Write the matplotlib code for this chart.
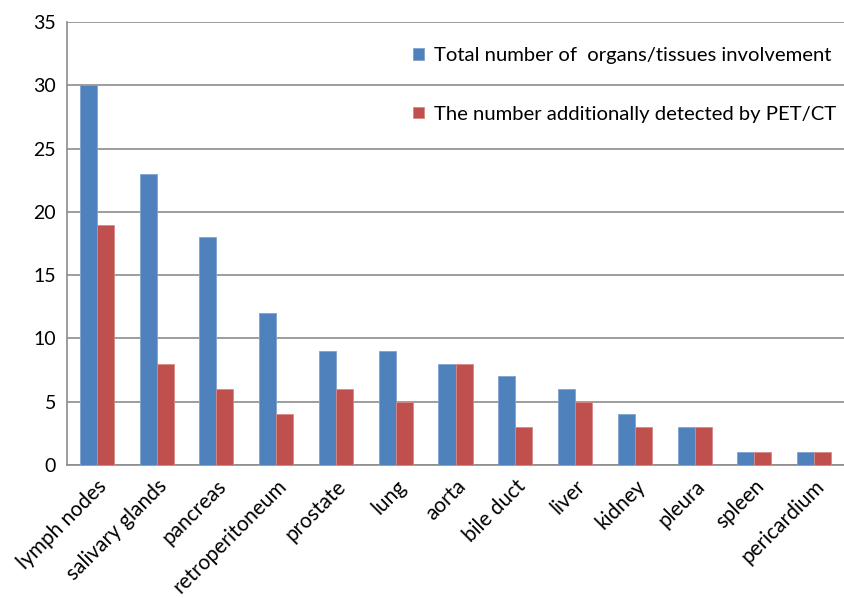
import matplotlib.pyplot as plt
import numpy as np

categories = ['lymph nodes', 'salivary glands', 'pancreas', 'retroperitoneum',
              'prostate', 'lung', 'aorta', 'bile duct', 'liver', 'kidney',
              'pleura', 'spleen', 'pericardium']
total = [30, 23, 18, 12, 9, 9, 8, 7, 6, 4, 3, 1, 1]
pet_ct = [19, 8, 6, 4, 6, 5, 8, 3, 5, 3, 3, 1, 1]
series_names = ['Total number of  organs/tissues involvement',
                'The number additionally detected by PET/CT']


def main():
    plt.rcParams['font.family'] = ['Lato', 'DejaVu Sans']
    fig = plt.figure(figsize=(8.44, 5.98), dpi=100)
    ax = fig.add_axes([67 / 844, 1 - 465 / 598, 777 / 844, (465 - 22) / 598])

    x = np.arange(len(categories))
    w = 0.285
    ax.bar(x - w / 2, total, w, color='#4F81BD', edgecolor='#7FA3CF', linewidth=0.6,
           zorder=3, label=series_names[0])
    ax.bar(x + w / 2, pet_ct, w, color='#C0504D', edgecolor='#D68A88', linewidth=0.6,
           zorder=3, label=series_names[1])

    ax.set_xlim(-0.5, len(categories) - 0.5)
    ax.set_ylim(0, 35)
    ax.set_yticks(range(0, 36, 5))
    ax.yaxis.grid(True, color='#8C8C8C', linewidth=1.2, zorder=0)
    ax.set_axisbelow(True)

    for s in ['top', 'right']:
        ax.spines[s].set_visible(False)
    ax.spines['left'].set_color('#8C8C8C')
    ax.spines['bottom'].set_color('#8C8C8C')
    ax.spines['left'].set_linewidth(1.2)
    ax.spines['bottom'].set_linewidth(1.2)

    ax.tick_params(axis='y', length=0, labelsize=14, pad=8)
    ax.tick_params(axis='x', length=0, labelsize=15, pad=8)
    ax.set_xticks(x)
    ax.set_xticklabels(categories, rotation=45, ha='right', rotation_mode='anchor')

    leg = ax.legend(loc='upper right', bbox_to_anchor=(1.0, 0.962), frameon=False,
                    fontsize=14.6, handlelength=0.5, handleheight=0.5,
                    handletextpad=0.5, labelspacing=2.05, borderaxespad=0)
    leg.set_zorder(5)

    fig.savefig('out.png')


if __name__ == "__main__":
    main()
